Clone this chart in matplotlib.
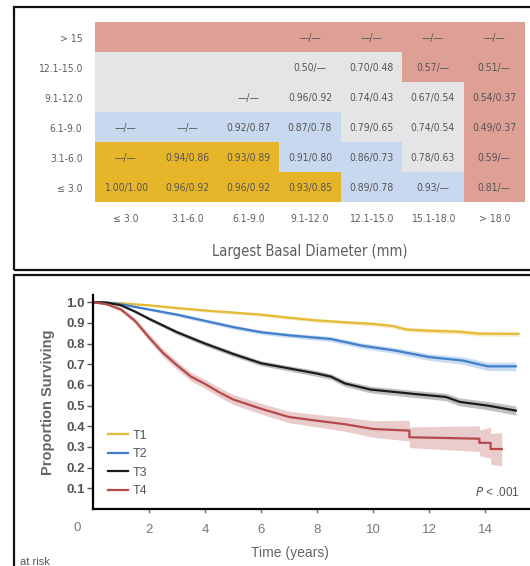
import matplotlib
matplotlib.use("Agg")
import matplotlib.pyplot as plt
import numpy as np
from matplotlib.colors import ListedColormap
from matplotlib.patches import Rectangle

W, H = 530, 566

# ---- top panel: 10-year / 15-year survival grid ----
ROW_LABELS = ["> 15", "12.1-15.0", "9.1-12.0", "6.1-9.0", "3.1-6.0", "≤ 3.0"]
COL_LABELS = ["≤ 3.0", "3.1-6.0", "6.1-9.0", "9.1-12.0", "12.1-15.0", "15.1-18.0", "> 18.0"]
GROUPS = [
    "RRRRRRR",
    "GGGGGRR",
    "GGGGGGR",
    "BBBBGGR",
    "YYYBBGR",
    "YYYYBBR",
]
CELL_TEXT = [
    ["", "", "", "—/—", "—/—", "—/—", "—/—"],
    ["", "", "", "0.50/—", "0.70/0.48", "0.57/—", "0.51/—"],
    ["", "", "—/—", "0.96/0.92", "0.74/0.43", "0.67/0.54", "0.54/0.37"],
    ["—/—", "—/—", "0.92/0.87", "0.87/0.78", "0.79/0.65", "0.74/0.54", "0.49/0.37"],
    ["—/—", "0.94/0.86", "0.93/0.89", "0.91/0.80", "0.86/0.73", "0.78/0.63", "0.59/—"],
    ["1.00/1.00", "0.96/0.92", "0.96/0.92", "0.93/0.85", "0.89/0.78", "0.93/—", "0.81/—"],
]
GROUP_ORDER = "YBGR"
GROUP_COLORS = ["#E6B52A", "#C8D8EE", "#E5E5E8", "#DE9F95"]

# ---- bottom panel: Kaplan-Meier curves ----
T1_T = [0, 1, 2, 3, 4, 5, 6, 7, 8, 9, 10, 10.7, 11.2, 12, 13, 13.8, 15.2]
T1_S = [1.0, 0.995, 0.985, 0.972, 0.96, 0.95, 0.94, 0.925, 0.912, 0.903, 0.895,
        0.885, 0.868, 0.862, 0.858, 0.848, 0.847]
T1_CI = [0, 0.003, 0.005, 0.006, 0.007, 0.007, 0.008, 0.008, 0.009, 0.009, 0.01,
         0.01, 0.01, 0.011, 0.011, 0.012, 0.012]

T2_T = [0, 0.5, 1, 2, 3, 4, 5, 6, 7, 8, 8.5, 9.6, 10.8, 12, 13.2, 14.1, 15.1]
T2_S = [1.0, 0.998, 0.99, 0.965, 0.94, 0.91, 0.88, 0.855, 0.84, 0.828, 0.822,
        0.79, 0.766, 0.735, 0.718, 0.69, 0.69]
T2_CI = [0, 0.002, 0.004, 0.006, 0.008, 0.009, 0.01, 0.01, 0.011, 0.012, 0.012,
         0.013, 0.014, 0.016, 0.018, 0.02, 0.021]

T3_T = [0, 0.5, 1, 1.5, 2, 3, 4, 5, 6, 7, 8, 8.5, 9, 9.9, 11.5, 12.6, 13.1, 14.1, 15.1]
T3_S = [1.0, 0.998, 0.985, 0.955, 0.92, 0.855, 0.80, 0.75, 0.705, 0.68, 0.655,
        0.64, 0.607, 0.578, 0.556, 0.542, 0.518, 0.50, 0.476]
T3_CI = [0, 0.002, 0.004, 0.006, 0.008, 0.01, 0.011, 0.012, 0.012, 0.013, 0.014,
         0.014, 0.015, 0.016, 0.017, 0.018, 0.019, 0.02, 0.022]

T4_T = [0, 0.5, 1, 1.5, 2, 2.5, 3, 3.5, 4, 4.5, 5, 6, 7, 8, 9, 10, 11.3, 11.3,
        13.8, 13.8, 14.2, 14.2, 14.6]
T4_S = [1.0, 0.99, 0.965, 0.91, 0.83, 0.755, 0.695, 0.64, 0.605, 0.565, 0.53,
        0.485, 0.445, 0.427, 0.41, 0.387, 0.379, 0.347, 0.34, 0.32, 0.32, 0.29, 0.29]
T4_CI = [0, 0.005, 0.01, 0.014, 0.017, 0.019, 0.02, 0.021, 0.022, 0.023, 0.024,
         0.026, 0.028, 0.03, 0.034, 0.04, 0.05, 0.05, 0.062, 0.062, 0.075, 0.075, 0.08]

SERIES = [
    ("T1", T1_T, T1_S, T1_CI, "#E5BA35"),
    ("T2", T2_T, T2_S, T2_CI, "#3F7FCC"),
    ("T3", T3_T, T3_S, T3_CI, "#1C1C1C"),
    ("T4", T4_T, T4_S, T4_CI, "#B44A4A"),
]
X_TICKS = [2, 4, 6, 8, 10, 12, 14]
Y_TICKS = [0.1, 0.2, 0.3, 0.4, 0.5, 0.6, 0.7, 0.8, 0.9, 1.0]


def fx(px):
    return px / W


def fy(py):
    return 1 - py / H


COND = dict(family="DejaVu Sans", fontstretch="condensed")
GREY = "#5e5e5e"

fig = plt.figure(figsize=(W / 100, H / 100), dpi=100)
fig.patch.set_facecolor("white")

# panel frames
for top, bot in [(7, 270), (275, 600)]:
    fig.patches.append(Rectangle((fx(14), fy(bot)), fx(560) - fx(14), fy(top) - fy(bot),
                                 transform=fig.transFigure, fill=False,
                                 edgecolor="#111111", linewidth=1.6))

# ---- grid table ----
ax = fig.add_axes([fx(95), fy(202), fx(525) - fx(95), fy(22) - fy(202)])
codes = np.array([[GROUP_ORDER.index(c) for c in row] for row in GROUPS])
ax.pcolormesh(np.arange(len(COL_LABELS) + 1), np.arange(len(ROW_LABELS) + 1), codes,
              cmap=ListedColormap(GROUP_COLORS), vmin=-0.5, vmax=3.5)
ax.set_xlim(0, len(COL_LABELS))
ax.set_ylim(len(ROW_LABELS), 0)
for i, row in enumerate(CELL_TEXT):
    for j, txt in enumerate(row):
        if txt:
            ax.text(j + 0.5, i + 0.55, txt, ha="center", va="center", fontsize=7.5,
                    color="#555555", **COND)
ax.set_xticks(np.arange(len(COL_LABELS)) + 0.5)
ax.set_xticklabels(COL_LABELS, fontsize=7.5, color=GREY, **COND)
ax.set_yticks(np.arange(len(ROW_LABELS)) + 0.55)
ax.set_yticklabels(ROW_LABELS, fontsize=7.5, color=GREY, **COND)
ax.tick_params(length=0, pad=9)
ax.tick_params(axis="x", pad=9)
for s in ax.spines.values():
    s.set_visible(False)
ax.set_xlabel("Largest Basal Diameter (mm)", fontsize=10.5, color=GREY,
              labelpad=14, **COND)

# ---- survival curves ----
ax2 = fig.add_axes([fx(93), fy(509), fx(545) - fx(93), fy(295) - fy(509)])
for name, t, s, ci, col in SERIES:
    t = np.array(t)
    s = np.array(s)
    ci = np.array(ci)
    ax2.fill_between(t, s - ci, s + ci, color=col, alpha=0.28, linewidth=0)
    ax2.plot(t, s, color=col, linewidth=1.6, label=name)

ax2.set_xlim(0, (545 - 93) / 28.0)
ax2.set_ylim(0, 1.035)
ax2.spines["top"].set_visible(False)
ax2.spines["right"].set_visible(False)
ax2.spines["left"].set_linewidth(1.6)
ax2.spines["bottom"].set_linewidth(1.6)
ax2.set_xticks(X_TICKS)
ax2.set_xticklabels([str(v) for v in X_TICKS], fontsize=9.5, color="#777777",
                    family="Liberation Sans")
ax2.set_yticks(Y_TICKS)
ax2.set_yticklabels([f"{v:.1f}" for v in Y_TICKS], fontsize=9.5, color="#555555",
                    family="Liberation Sans", fontweight="bold")
ax2.tick_params(axis="y", length=4, width=1, pad=2, color="#555555")
ax2.tick_params(axis="x", length=3, width=1, pad=8, color="#777777")
ax2.text(-0.55, -0.09, "0", ha="center", va="center", fontsize=9.5,
         color="#777777", family="Liberation Sans", clip_on=False)
ax2.set_ylabel("Proportion Surviving", fontsize=10.5, color="#666666",
               family="Liberation Sans", fontweight="bold", labelpad=8)
ax2.set_xlabel("Time (years)", fontsize=10, color="#666666",
               family="Liberation Sans", labelpad=12)
ax2.xaxis.set_label_coords((290 - 93) / (545 - 93), -(546 - 509) / (509 - 295))
ax2.text((520 - 93) / (545 - 93), (509 - 492) / (509 - 295), "$\\it{P}$ < .001",
         transform=ax2.transAxes, ha="right", va="center", fontsize=8.5,
         color="#555555", family="Liberation Sans")

leg = ax2.legend(loc="lower left", bbox_to_anchor=(0.033, 0.055), frameon=False,
                 handlelength=1.6, handletextpad=0.4, labelspacing=0.52,
                 borderaxespad=0, borderpad=0,
                 prop={"family": "Liberation Sans", "size": 9})
for txt in leg.get_texts():
    txt.set_color("#555555")

fig.text(fx(20), fy(557), "at risk", fontsize=8, color="#555555",
         family="Liberation Sans", va="top", ha="left")

fig.savefig("out.png", dpi=100, facecolor="white")
